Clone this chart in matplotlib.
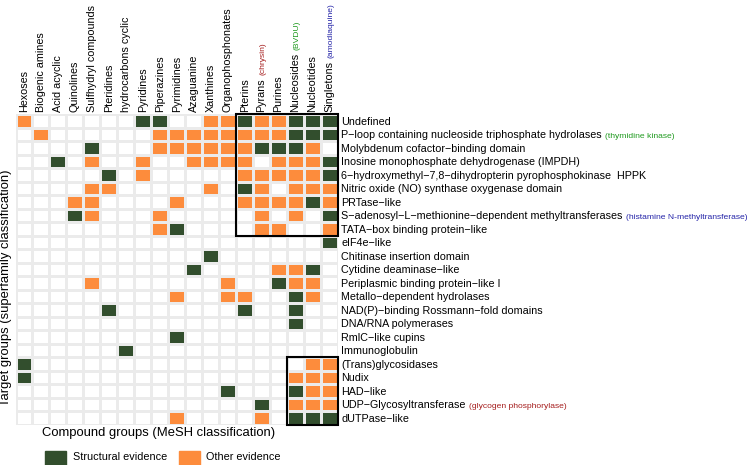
import matplotlib
matplotlib.use('Agg')
import numpy as np
import matplotlib.pyplot as plt
from matplotlib.colors import ListedColormap
from matplotlib.patches import Rectangle

plt.rcParams['font.family'] = ['Liberation Sans', 'DejaVu Sans']

compounds = ['Hexoses', 'Biogenic amines', 'Acid acyclic', 'Quinolines',
             'Sulfhydryl compounds', 'Pteridines', 'hydrocarbons cyclic',
             'Pyridines', 'Piperazines', 'Pyrimidines', 'Azaguanine',
             'Xanthines', 'Organophosphonates', 'Pterins', 'Pyrans', 'Purines',
             'Nucleosides', 'Nucleotides', 'Singletons']
compound_notes = {'Pyrans': ('(chrysin)', '#a51d1d'),
                  'Nucleosides': ('(BVDU)', '#1f9a1f'),
                  'Singletons': ('(amodiaquine)', '#2424a8')}

targets = ['Undefined',
           'P\u2212loop containing nucleoside triphosphate hydrolases',
           'Molybdenum cofactor\u2212binding domain',
           'Inosine monophosphate dehydrogenase (IMPDH)',
           '6\u2212hydroxymethyl\u22127,8\u2212dihydropterin pyrophosphokinase  HPPK',
           'Nitric oxide (NO) synthase oxygenase domain',
           'PRTase\u2212like',
           'S\u2212adenosyl\u2212L\u2212methionine\u2212dependent methyltransferases',
           'TATA\u2212box binding protein\u2212like',
           'eIF4e\u2212like',
           'Chitinase insertion domain',
           'Cytidine deaminase\u2212like',
           'Periplasmic binding protein\u2212like I',
           'Metallo\u2212dependent hydrolases',
           'NAD(P)\u2212binding Rossmann\u2212fold domains',
           'DNA/RNA polymerases',
           'RmlC\u2212like cupins',
           'Immunoglobulin',
           '(Trans)glycosidases',
           'Nudix',
           'HAD\u2212like',
           'UDP\u2212Glycosyltransferase',
           'dUTPase\u2212like']
target_notes = {1: ('(thymidine kinase)', '#1f9a1f'),
                7: ('(histamine N-methyltransferase)', '#2424a8'),
                21: ('(glycogen phosphorylase)', '#a51d1d')}

# one string per target row, one char per compound column
# S = structural evidence, O = other evidence, . = none
evidence = ['O......SS..OOSOOSSS',
            '.O......OOOOOOOOSSS',
            '....S...OOOOOOSSSO.',
            '..S.O..O..OOOO.OOOS',
            '.....S.O.....OOOOOS',
            '....OO.....O.SO.OOO',
            '...OO....O...OOOOSO',
            '...SO...O.....O.O.S',
            '........OS....OO..O',
            '..................S',
            '...........S.......',
            '..........S....OOS.',
            '....O.......O..SOO.',
            '.........O..OO..SO.',
            '.....S.......S..S..',
            '................S..',
            '.........S.........',
            '......S............',
            'S................OO',
            'S...............OOO',
            '............S...SOO',
            '..............S.OOO',
            '.........O....O.SSS']

green = '#324e2d'
orange = '#fd8c3c'
code = {'.': 0, 'S': 1, 'O': 2}
M = np.array([[code[c] for c in row] for row in evidence])

W, H = 750, 465
fig = plt.figure(figsize=(W / 100, H / 100), dpi=100)
ax = fig.add_axes([15.5 / W, 1 - 424.5 / H, 322.5 / W, 310.5 / H])

cmap = ListedColormap(['white', green, orange])
ax.pcolormesh(np.arange(len(compounds) + 1), np.arange(len(targets) + 1), M,
              cmap=cmap, vmin=0, vmax=2, edgecolors='#ebebeb', linewidth=1.0)
ax.set_xlim(0, len(compounds))
ax.set_ylim(len(targets), 0)

# highlighted blocks
ax.add_patch(Rectangle((13, 0), 6, 9, fill=False, ec='black', lw=1.5, clip_on=False, zorder=5))
ax.add_patch(Rectangle((16, 18), 3, 5, fill=False, ec='black', lw=1.5, clip_on=False, zorder=5))

for s in ax.spines.values():
    s.set_visible(False)

tick_size = 7.75
ax.xaxis.tick_top()
ax.set_xticks(np.arange(len(compounds)) + 0.5)
ax.set_xticklabels(compounds, rotation=90, fontsize=tick_size)
ax.yaxis.tick_right()
ax.set_yticks(np.arange(len(targets)) + 0.5)
ax.set_yticklabels(targets, fontsize=tick_size)
ax.tick_params(axis='x', length=0, pad=1.5)
ax.tick_params(axis='y', length=0, pad=2.5)

fig.text(6 / W, 1 - 288 / H, 'Target groups (superfamily classification)',
         rotation=90, ha='center', va='center', fontsize=9.4)
fig.text(159 / W, 1 - 433 / H, 'Compound groups (MeSH classification)',
         ha='center', va='center', fontsize=9.4)

# legend
fig.patches.append(Rectangle((45 / W, 1 - 465 / H), 21 / W, 14 / H, color=green,
                             transform=fig.transFigure, figure=fig))
fig.text(73 / W, 1 - 457 / H, 'Structural evidence', va='center', fontsize=7.8)
fig.patches.append(Rectangle((179 / W, 1 - 465 / H), 21 / W, 14 / H, color=orange,
                             transform=fig.transFigure, figure=fig))
fig.text(206 / W, 1 - 457 / H, 'Other evidence', va='center', fontsize=7.8)

# coloured notes next to some labels
fig.canvas.draw()
r = fig.canvas.get_renderer()
px = 100 / 72.0
note_size = 6.1
for lbl in ax.get_yticklabels():
    i = targets.index(lbl.get_text())
    if i in target_notes:
        txt, col = target_notes[i]
        bb = lbl.get_window_extent(r)
        base = bb.y0 + 0.21 * tick_size * px
        fig.text((bb.x1 + 3) / W, base / H, txt, color=col, fontsize=note_size,
                 va='baseline', ha='left')
for lbl in ax.get_xticklabels():
    name = lbl.get_text()
    if name in compound_notes:
        txt, col = compound_notes[name]
        bb = lbl.get_window_extent(r)
        fig.text((bb.x1 - 0.21 * (tick_size - note_size) * px) / W, (bb.y1 + 3) / H, txt,
                 color=col, fontsize=note_size, rotation=90, ha='right', va='bottom')

fig.savefig('out.png', dpi=100)
